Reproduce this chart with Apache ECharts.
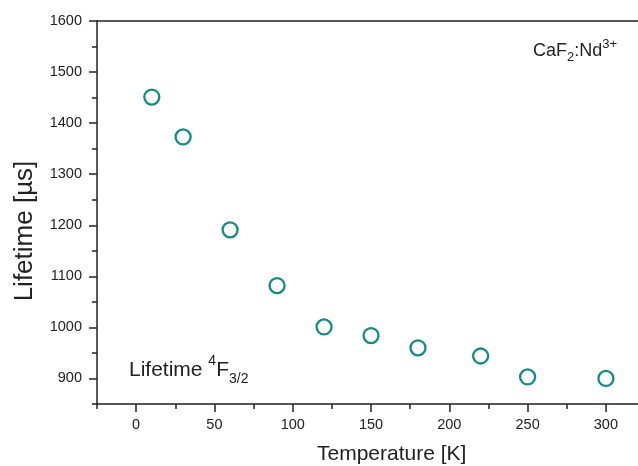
<!DOCTYPE html>
<html><head><meta charset="utf-8">
<script src="https://cdn.jsdelivr.net/npm/echarts@6/dist/echarts.min.js"></script>
<style>html,body{margin:0;padding:0;background:#fff}#c{width:638px;height:466px}</style>
</head><body><div id="c"></div>
<script>
const temperatures = [10, 30, 60, 90, 120, 150, 180, 220, 250, 300];
const lifetimes = [1451, 1373, 1191, 1082, 1001, 984, 960, 944, 903, 900];
const xMajorTicks = [0, 50, 100, 150, 200, 250, 300];
const xMinorTicks = [-25, 25, 75, 125, 175, 225, 275];
const yMajorTicks = [900, 1000, 1100, 1200, 1300, 1400, 1500, 1600];
const yMinorTicks = [850, 950, 1050, 1150, 1250, 1350, 1450, 1550];
const xRange = [-25, 320.5];
const yRange = [850, 1600];
const xTitle = 'Temperature [K]';
const yTitle = 'Lifetime [µs]';

const FONT = 'Liberation Sans, Arial, Helvetica, sans-serif';
const INK = '#222';
const TEAL = '#178a83';
const gridRect = {left: 97, top: 21, right: 0, bottom: 62};
const lineStyle = {color: INK, width: 1.5};
const plain = v => String(v);

const chart = echarts.init(document.getElementById('c'), null, {renderer: 'canvas'});
chart.setOption({
  animation: false,
  backgroundColor: '#fff',
  grid: [Object.assign({}, gridRect), Object.assign({}, gridRect)],
  xAxis: [
    {gridIndex: 0, type: 'value', position: 'bottom', min: xRange[0], max: xRange[1],
     axisLine: {show: true, onZero: false, lineStyle: lineStyle},
     axisTick: {show: true, length: 8, customValues: xMajorTicks, lineStyle: lineStyle},
     axisLabel: {show: true, customValues: xMajorTicks, formatter: plain, margin: 13, fontSize: 14.5, color: INK, fontFamily: FONT},
     splitLine: {show: false}},
    {gridIndex: 0, type: 'value', position: 'top', min: xRange[0], max: xRange[1],
     axisLine: {show: true, onZero: false, lineStyle: lineStyle},
     axisTick: {show: false}, axisLabel: {show: false}, splitLine: {show: false}},
    {gridIndex: 1, type: 'value', position: 'bottom', min: xRange[0], max: xRange[1],
     axisLine: {show: false, onZero: false},
     axisTick: {show: true, length: 5, customValues: xMinorTicks, lineStyle: lineStyle},
     axisLabel: {show: false}, splitLine: {show: false}}
  ],
  yAxis: [
    {gridIndex: 0, type: 'value', position: 'left', min: yRange[0], max: yRange[1],
     axisLine: {show: true, onZero: false, lineStyle: lineStyle},
     axisTick: {show: true, length: 8, customValues: yMajorTicks, lineStyle: lineStyle},
     axisLabel: {show: true, customValues: yMajorTicks, formatter: plain, margin: 15, fontSize: 14.5, color: INK, fontFamily: FONT},
     splitLine: {show: false}},
    {gridIndex: 1, type: 'value', position: 'left', min: yRange[0], max: yRange[1],
     axisLine: {show: false, onZero: false},
     axisTick: {show: true, length: 5, customValues: yMinorTicks, lineStyle: lineStyle},
     axisLabel: {show: false}, splitLine: {show: false}}
  ],
  series: [{
    type: 'scatter', xAxisIndex: 0, yAxisIndex: 0,
    data: temperatures.map((t, i) => [t, lifetimes[i]]),
    symbol: 'circle', symbolSize: 15,
    itemStyle: {color: '#fff', borderColor: TEAL, borderWidth: 2.3, opacity: 1}
  }],
  graphic: [
    {type: 'text', x: 391.7, y: 454, style: {text: xTitle, fontSize: 21, fontFamily: FONT, fill: INK,
      align: 'center', textAlign: 'center', verticalAlign: 'middle', textVerticalAlign: 'middle'}},
    {type: 'text', x: 25, y: 231, rotation: Math.PI / 2, style: {text: yTitle, fontSize: 26, fontFamily: FONT, fill: INK,
      align: 'center', textAlign: 'center', verticalAlign: 'middle', textVerticalAlign: 'middle'}},
    {type: 'text', x: 533, y: 38, style: {
      text: '{m|CaF}{sub|2}{m|:Nd}{sup|3+}', fontFamily: FONT, fill: INK,
      align: 'left', textAlign: 'left', verticalAlign: 'top', textVerticalAlign: 'top',
      rich: {
        m: {fontSize: 18, lineHeight: 26, fontFamily: FONT, fill: INK, color: INK},
        sub: {fontSize: 13, lineHeight: 9, verticalAlign: 'bottom', fontFamily: FONT, fill: INK, color: INK},
        sup: {fontSize: 13, lineHeight: 10, verticalAlign: 'top', fontFamily: FONT, fill: INK, color: INK}
      }}},
    {type: 'text', x: 129, y: 354, style: {
      text: '{m|Lifetime }{sup|4}{m|F}{sub|3/2}', fontFamily: FONT, fill: INK,
      align: 'left', textAlign: 'left', verticalAlign: 'top', textVerticalAlign: 'top',
      rich: {
        m: {fontSize: 21, lineHeight: 32, fontFamily: FONT, fill: INK, color: INK},
        sub: {fontSize: 14, lineHeight: 8, verticalAlign: 'bottom', fontFamily: FONT, fill: INK, color: INK},
        sup: {fontSize: 14, lineHeight: 14, verticalAlign: 'top', fontFamily: FONT, fill: INK, color: INK}
      }}}
  ]
});
</script>
</body></html>
